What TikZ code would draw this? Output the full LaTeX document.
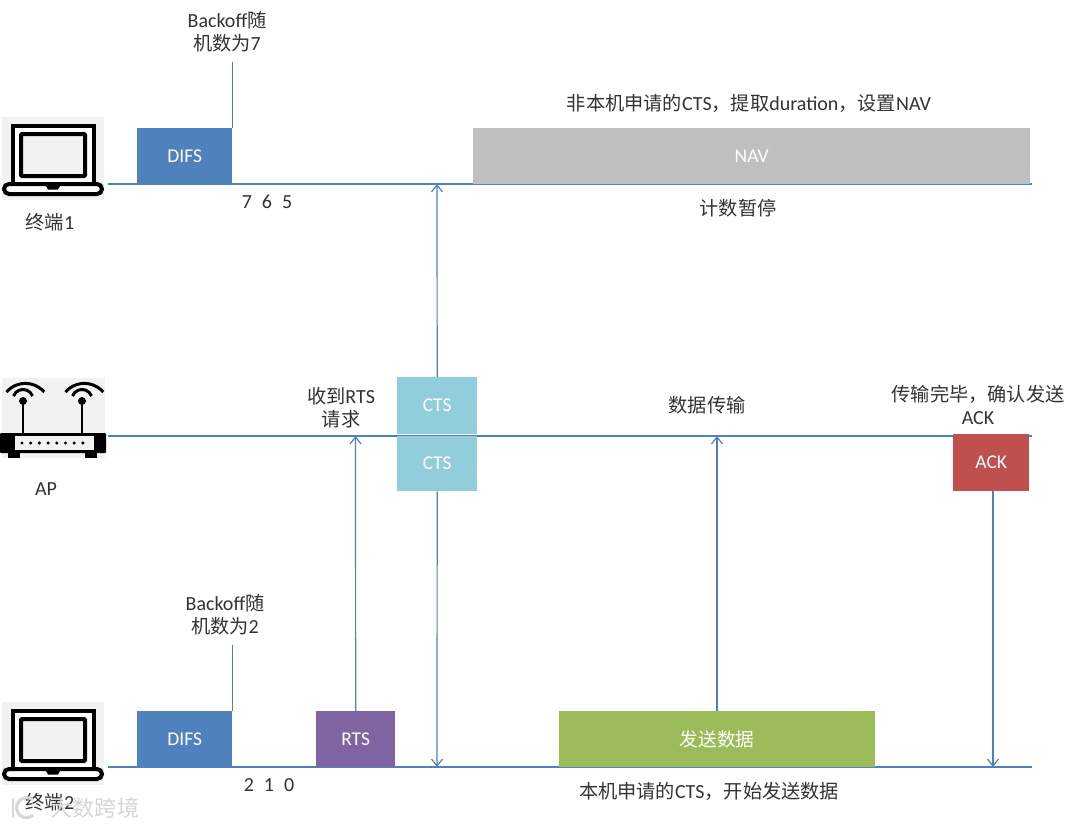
\documentclass[tikz,border=0pt]{standalone}
\usepackage{fontspec}
\setmainfont{Carlito}
\newfontfamily\cjk{Noto Sans CJK SC}[Scale=0.96]
\newcommand{\zh}[1]{{\cjk #1}}
\definecolor{linec}{HTML}{4F81BD}
\definecolor{txt}{HTML}{333333}
\definecolor{difsc}{HTML}{4F81BD}
\definecolor{navc}{HTML}{BFBFBF}
\definecolor{ctsc}{HTML}{92CDDC}
\definecolor{ackc}{HTML}{C0504D}
\definecolor{rtsc}{HTML}{8064A2}
\definecolor{datac}{HTML}{9BBB59}
\definecolor{iconbg}{HTML}{F2F2F2}
\usetikzlibrary{arrows.meta}
\tikzset{
  x=1pt,y=-1pt,
  lbl/.style={text=txt,font=\fontsize{20}{23}\selectfont,align=center,inner sep=0pt},
  blk/.style={anchor=north west,inner sep=0pt,text=white},
  blktxt/.style={text=white,font=\fontsize{19.5}{22}\selectfont},
  tl/.style={linec,line width=1.2pt},
  ar/.style={linec,line width=1.2pt,-{Straight Barb[length=7pt,width=11pt]}},
  ic/.style={black,line width=4pt},
}
\newcommand{\laptop}[1]{%
  \begin{scope}[yshift=-#1pt]
    \fill[iconbg] (2,117) rectangle (104,200);
    \draw[ic,fill=white] (12.5,184) -- (12.5,126) -- (93.5,126) -- (93.5,184);
    \draw[ic,fill=iconbg,rounded corners=1pt] (21,134) rectangle (85,176);
    \draw[ic,fill=white,rounded corners=5pt] (4,184) -- (102,184) -- (102,194) -- (4,194) -- cycle;
    \fill[black] (45,184) -- (61,184) -- (58,189.5) -- (48,189.5) -- cycle;
  \end{scope}}
\begin{document}
\begin{tikzpicture}
\useasboundingbox (0,0) rectangle (1080,828);
\fill[white] (0,0) rectangle (1080,828);

% icons
\laptop{0}
\laptop{585}
\fill[iconbg] (2,378) rectangle (105,458);
\foreach \ax in {23,82}{
  \draw[ic,line width=2.6pt] (\ax,401) -- (\ax,435);
  \fill[black] (\ax,401) circle (4pt);
  \draw[ic,line width=3pt] (\ax-9.5,396) arc[start angle=159,end angle=21,radius=10.2pt];
  \draw[ic,line width=3pt] (\ax-16.5,392) arc[start angle=139,end angle=41,radius=25pt];
}
\fill[black,rounded corners=1pt] (0,433) rectangle (106,453);
\fill[black] (8,453) rectangle (20,457.5);
\fill[black] (85,453) rectangle (97,457.5);
\fill[white!95!black] (15,436) rectangle (94,450);
\foreach \i in {0,...,7} \fill[black] (22+\i*8.7,443) circle (1.7pt);

% timelines
\coordinate (t1a) at (108,184); \coordinate (t1b) at (1032,184);
\coordinate (apa) at (108,436); \coordinate (apb) at (1032,436);
\coordinate (t2a) at (108,767); \coordinate (t2b) at (1032,767);
\draw[tl] (t1a) -- (t1b);
\draw[tl] (apa) -- (apb);
\draw[tl] (t2a) -- (t2b);

% blocks
\node[blk,fill=difsc,minimum width=95pt,minimum height=56pt,label={[blktxt]center:DIFS}] (difs1) at (137,128) {};
\node[blk,fill=navc,minimum width=557pt,minimum height=56pt,label={[blktxt]center:NAV}] (nav) at (473,128) {};
\node[blk,fill=ctsc,minimum width=80pt,minimum height=57pt,label={[blktxt]center:CTS}] (ctsa) at (397,377) {};
\node[blk,fill=ctsc,minimum width=80pt,minimum height=55pt,label={[blktxt]center:CTS}] (ctsb) at (397,436) {};
\node[blk,fill=ackc,minimum width=76pt,minimum height=57pt,label={[blktxt]center:ACK}] (ack) at (953,434) {};
\node[blk,fill=difsc,minimum width=95pt,minimum height=56pt,label={[blktxt]center:DIFS}] (difs2) at (137,711) {};
\node[blk,fill=rtsc,minimum width=79pt,minimum height=56pt,label={[blktxt]center:RTS}] (rts) at (316,711) {};
\node[blk,fill=datac,minimum width=316pt,minimum height=56pt,label={[blktxt]center:\zh{发送数据}}] (data) at (559,711) {};

% connector end points
\coordinate (b1) at (232,62);
\coordinate (b2) at (232,645);
\coordinate (ctstop) at (437,184);
\coordinate (ctsbot) at (437,767);
\coordinate (rtsend) at (355.5,436);
\coordinate (dataend) at (717,436);
\coordinate (ackend) at (993,767);
\draw[tl] (difs1.north east) -- (difs1.north east |- b1);
\draw[tl] (difs2.north east) -- (difs2.north east |- b2);
\draw[ar] (ctsa.north) -- (ctstop);
\draw[ar] (ctsb.south) -- (ctsbot);
\draw[ar] (rts.north) -- (rtsend);
\draw[ar] (data.north -| dataend) -- (dataend);
\draw[ar] (ack.south -| ackend) -- (ackend);

% labels
\node[lbl] (l1) at (227,32) {Backoff\zh{随}\\\zh{机数为}7};
\node[lbl] (l2) at (225,615) {Backoff\zh{随}\\\zh{机数为}2};
\node[lbl] (l3) at (749,103) {\zh{非本机申请的}CTS\zh{，提取}duration\zh{，设置}NAV};
\node[lbl] (l4) at (738,208) {\zh{计数暂停}};
\node[lbl] (l5) at (267,202) {7\hspace{10pt}6\hspace{10pt}5};
\node[lbl] (l6) at (269,785) {2\hspace{10pt}1\hspace{10pt}0};
\node[lbl] (l7) at (50,222) {\zh{终端}1};
\node[lbl] (l8) at (46,489) {AP};
\node[lbl] (l9) at (341,408) {\zh{收到}RTS\\\zh{请求}};
\node[lbl] (l10) at (707,405) {\zh{数据传输}};
\node[lbl] (l11) at (978,405) {\zh{传输完毕，确认发送}\\ACK};
\node[lbl] (l12) at (709,791) {\zh{本机申请的}CTS\zh{，开始发送数据}};
\node[lbl] (l13) at (50,802) {\zh{终端}2};
% watermark
\node[inner sep=0pt,text=black!16,font=\fontsize{23}{24}\selectfont] (wm) at (95,808) {\zh{大数跨境}};
\draw[black!16,line width=3pt] (33,800) arc[start angle=50,end angle=310,radius=10pt];
\draw[black!16,line width=2.5pt] (13,798) -- (13,818);
\end{tikzpicture}
\end{document}
